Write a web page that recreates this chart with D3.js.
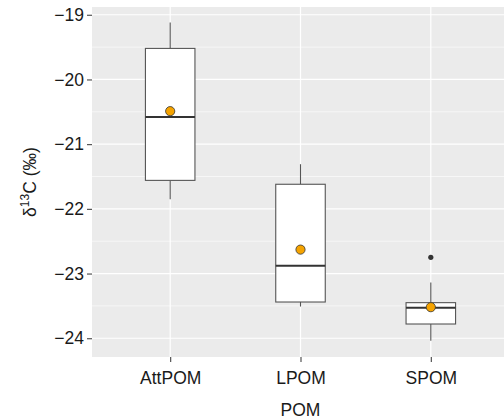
<!DOCTYPE html>
<html>
<head>
<meta charset="utf-8">
<script src="https://cdn.jsdelivr.net/npm/d3@7"></script>
<style>
  body { margin: 0; background: #fff; }
  svg { font-family: "Liberation Sans", Arial, sans-serif; }
</style>
</head>
<body>
<div id="wrapper"></div>
<script>
const groups = ["AttPOM", "LPOM", "SPOM"]
const whiskerLow = [-21.85, -23.51, -24.04]
const q1 = [-21.56, -23.44, -23.78]
const medians = [-20.58, -22.88, -23.53]
const q3 = [-19.52, -21.62, -23.45]
const whiskerHigh = [-19.12, -21.31, -23.14]
const means = [-20.49, -22.63, -23.52]
const outliers = [{ group: "SPOM", value: -22.75 }]
const yTicks = [-24, -23, -22, -21, -20, -19]

const dataset = groups.map((g, i) => ({
  group: g, lo: whiskerLow[i], q1: q1[i], med: medians[i],
  q3: q3[i], hi: whiskerHigh[i], mean: means[i]
}))

const dimensions = {
  width: 504,
  height: 420,
  margin: { top: 7, right: -5, bottom: 63, left: 92 }
}
dimensions.boundedWidth = dimensions.width - dimensions.margin.left - dimensions.margin.right
dimensions.boundedHeight = dimensions.height - dimensions.margin.top - dimensions.margin.bottom

const fontSize = "17.5px"

const wrapper = d3.select("#wrapper")
  .append("svg")
    .attr("width", dimensions.width)
    .attr("height", dimensions.height)

const bounds = wrapper.append("g")
  .attr("transform", `translate(${dimensions.margin.left},${dimensions.margin.top})`)

const yScale = d3.scaleLinear()
  .domain([-24.29, -18.88])
  .range([dimensions.boundedHeight, 0])

const xScale = d3.scalePoint()
  .domain(groups)
  .range([0, dimensions.boundedWidth])
  .padding(0.6)

const step = xScale.step()
const boxHalf = step * 0.19

// panel background
bounds.append("rect")
  .attr("width", dimensions.boundedWidth)
  .attr("height", dimensions.boundedHeight)
  .attr("fill", "#ebebeb")

// minor gridlines
const minorTicks = d3.range(-24.5, -18.5, 1).filter(v => yScale(v) >= 0 && yScale(v) <= dimensions.boundedHeight)
bounds.selectAll(".minor")
  .data(minorTicks)
  .enter().append("line")
    .attr("x1", 0).attr("x2", dimensions.boundedWidth)
    .attr("y1", d => yScale(d)).attr("y2", d => yScale(d))
    .attr("stroke", "#fff").attr("stroke-width", 0.6)

// major gridlines
bounds.selectAll(".major")
  .data(yTicks)
  .enter().append("line")
    .attr("x1", 0).attr("x2", dimensions.boundedWidth)
    .attr("y1", d => yScale(d)).attr("y2", d => yScale(d))
    .attr("stroke", "#fff").attr("stroke-width", 1.2)

bounds.selectAll(".vgrid")
  .data(groups)
  .enter().append("line")
    .attr("x1", d => xScale(d)).attr("x2", d => xScale(d))
    .attr("y1", 0).attr("y2", dimensions.boundedHeight)
    .attr("stroke", "#fff").attr("stroke-width", 1.2)

const boxColor = "#555"

const boxes = bounds.selectAll(".box")
  .data(dataset)
  .enter().append("g")

boxes.append("line")
  .attr("x1", d => xScale(d.group)).attr("x2", d => xScale(d.group))
  .attr("y1", d => yScale(d.hi)).attr("y2", d => yScale(d.q3))
  .attr("stroke", boxColor).attr("stroke-width", 1.1)

boxes.append("line")
  .attr("x1", d => xScale(d.group)).attr("x2", d => xScale(d.group))
  .attr("y1", d => yScale(d.q1)).attr("y2", d => yScale(d.lo))
  .attr("stroke", boxColor).attr("stroke-width", 1.1)

boxes.append("rect")
  .attr("x", d => xScale(d.group) - boxHalf)
  .attr("width", boxHalf * 2)
  .attr("y", d => yScale(d.q3))
  .attr("height", d => yScale(d.q1) - yScale(d.q3))
  .attr("fill", "#fff")
  .attr("stroke", boxColor).attr("stroke-width", 1.1)

boxes.append("line")
  .attr("x1", d => xScale(d.group) - boxHalf).attr("x2", d => xScale(d.group) + boxHalf)
  .attr("y1", d => yScale(d.med)).attr("y2", d => yScale(d.med))
  .attr("stroke", "#333").attr("stroke-width", 2)

bounds.selectAll(".outlier")
  .data(outliers)
  .enter().append("circle")
    .attr("cx", d => xScale(d.group))
    .attr("cy", d => yScale(d.value))
    .attr("r", 2.6)
    .attr("fill", "#333")

boxes.append("circle")
  .attr("cx", d => xScale(d.group))
  .attr("cy", d => yScale(d.mean))
  .attr("r", 4.6)
  .attr("fill", "#f5a300")
  .attr("stroke", "#333").attr("stroke-width", 0.8)

// axes
const yAxisGenerator = d3.axisLeft(yScale)
  .tickValues(yTicks)
  .tickSize(5)
  .tickPadding(3)
  .tickFormat(d => "\u2212" + Math.abs(d))

const yAxis = bounds.append("g")
  .call(yAxisGenerator)
yAxis.select(".domain").remove()
yAxis.selectAll(".tick line").attr("stroke", "#444").attr("stroke-width", 1.1)
yAxis.selectAll(".tick text")
  .attr("fill", "#1a1a1a")
  .style("font-size", fontSize)

const xAxisGenerator = d3.axisBottom(xScale)
  .tickSize(5)
  .tickPadding(10)

const xAxis = bounds.append("g")
  .attr("transform", `translate(0,${dimensions.boundedHeight})`)
  .call(xAxisGenerator)
xAxis.select(".domain").remove()
xAxis.selectAll(".tick line").attr("stroke", "#444").attr("stroke-width", 1.1)
xAxis.selectAll(".tick text")
  .attr("fill", "#1a1a1a")
  .style("font-size", fontSize)

// axis titles
wrapper.append("text")
  .attr("x", dimensions.margin.left + xScale("LPOM"))
  .attr("y", 416)
  .attr("text-anchor", "middle")
  .attr("fill", "#1a1a1a")
  .style("font-size", fontSize)
  .text("POM")

const yLabel = wrapper.append("text")
  .attr("transform", `translate(36,${dimensions.margin.top + dimensions.boundedHeight / 2}) rotate(-90)`)
  .attr("text-anchor", "middle")
  .attr("fill", "#1a1a1a")
  .style("font-size", fontSize)
yLabel.append("tspan").text("\u03b4")
yLabel.append("tspan").attr("dy", -7).style("font-size", "12px").text("13")
yLabel.append("tspan").attr("dy", 7).text("C (\u2030)")
</script>
</body>
</html>
